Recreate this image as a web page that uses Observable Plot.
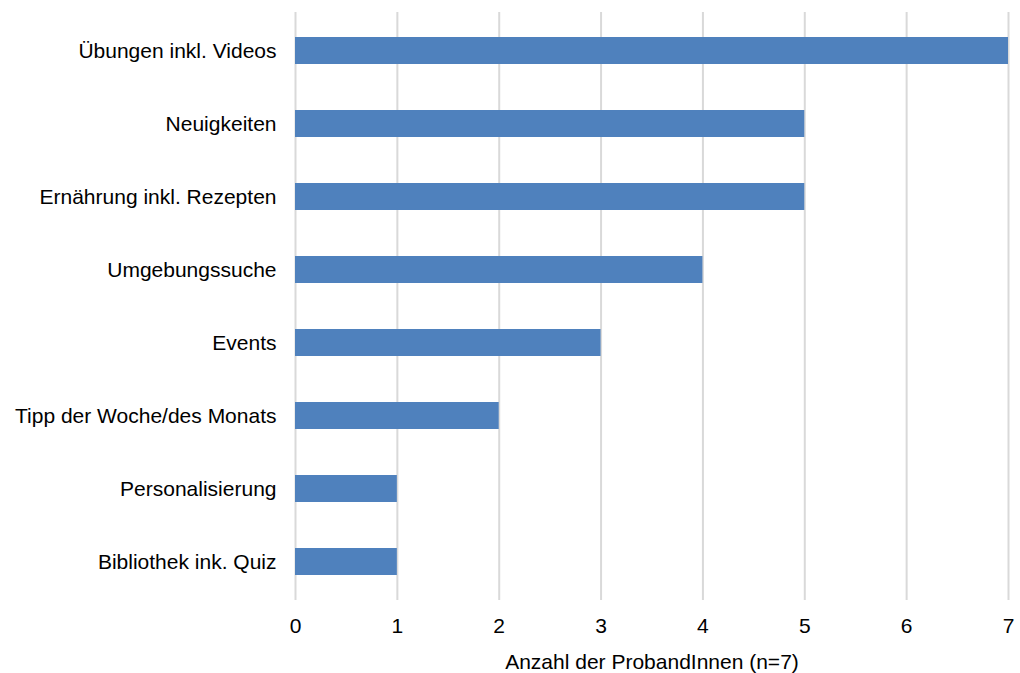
<!DOCTYPE html>
<html>
<head>
<meta charset="utf-8">
<script src="https://cdn.jsdelivr.net/npm/d3@7"></script>
<script src="https://cdn.jsdelivr.net/npm/@observablehq/plot@0.6"></script>
<style>
  html, body { margin: 0; padding: 0; background: #fff; }
  #chart svg { display: block; }
</style>
</head>
<body>
<div id="chart"></div>
<script>
const categories = [
  "Übungen inkl. Videos",
  "Neuigkeiten",
  "Ernährung inkl. Rezepten",
  "Umgebungssuche",
  "Events",
  "Tipp der Woche/des Monats",
  "Personalisierung",
  "Bibliothek ink. Quiz"
];
const values = [7, 5, 5, 4, 3, 2, 1, 1];
const xTicks = [0, 1, 2, 3, 4, 5, 6, 7];
const xLabel = "Anzahl der ProbandInnen (n=7)";

const data = categories.map((c, i) => ({category: c, value: values[i]}));

const chart = Plot.plot({
  width: 1020,
  height: 673,
  marginTop: 12,
  marginBottom: 73,
  marginLeft: 295,
  marginRight: 12,
  style: {fontFamily: "'Liberation Sans', Arial, sans-serif", fontSize: "21px", color: "#000", background: "#fff"},
  x: {domain: [0, 7], ticks: xTicks},
  y: {domain: categories, paddingInner: 0.63, paddingOuter: 0.315},
  marks: [
    Plot.gridX(xTicks, {stroke: "#d9d9d9", strokeOpacity: 1, strokeWidth: 2}),
    Plot.barX(data, {x: "value", y: "category", fill: "#4F81BD"}),
    Plot.axisX({ticks: xTicks, tickFormat: "d", tickSize: 0, tickPadding: 18, fontSize: 21, label: xLabel, labelAnchor: "center", labelOffset: 68, labelArrow: "none"}),
    Plot.axisY({tickSize: 0, tickPadding: 19, fontSize: 21, label: null})
  ]
});
document.getElementById("chart").appendChild(chart);
</script>
</body>
</html>
